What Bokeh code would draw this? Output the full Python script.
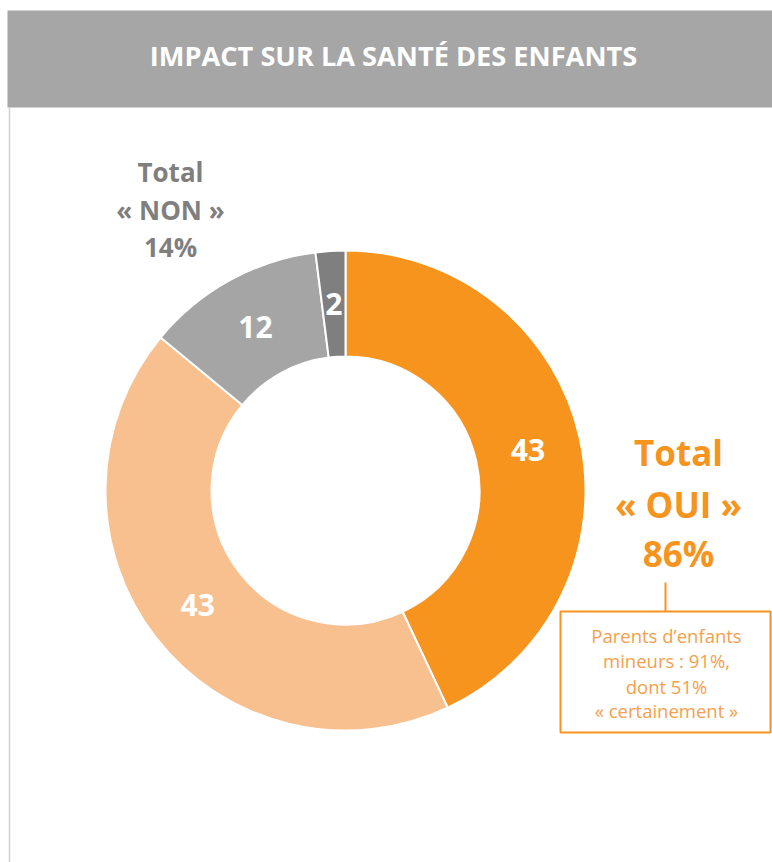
import math
from bokeh.plotting import figure
from bokeh.models import Range1d
from bokeh.core.properties import value
from bokeh.embed import file_html
from bokeh.resources import INLINE

# Data
categories = ["Oui, certainement", "Oui, probablement", "Non, probablement pas", "Non, certainement pas"]
values = [43, 43, 12, 2]
colors = ["#F7941D", "#F9C08F", "#A5A5A5", "#7F7F7F"]
title = "IMPACT SUR LA SANTÉ DES ENFANTS"
non_lines = ["Total", "« NON »", "14%"]
oui_lines = ["Total", "« OUI »", "86%"]
note_lines = ["Parents d\u2019enfants", "mineurs : 91%,", "dont 51%", "« certainement »"]

W, H = 772, 862
FONT = "Open Sans"

def X(px):
    return px

def Y(py):
    return H - py

p = figure(width=W, height=H, output_backend="svg", toolbar_location=None,
           x_range=Range1d(0, W), y_range=Range1d(0, H), min_border=0)
p.axis.visible = False
p.grid.visible = False
p.outline_line_color = None
p.background_fill_color = "white"

# header
p.quad(left=X(7), right=W, top=Y(10), bottom=Y(107), fill_color="#A6A6A6", line_color=None)
p.text(x=[X(393)], y=[Y(55)], text=[title], text_font=value(FONT), text_font_style="bold",
       text_font_size="27.2px", text_color="white", text_align="center", text_baseline="middle")
# left border
p.segment(x0=[X(9)], y0=[Y(107)], x1=[X(9)], y1=[0], line_color="#D0D0D0", line_width=1.5)

# donut
cx, cy = X(345), Y(490)
r_in, r_out = 134, 240
total = sum(values)
starts, ends, mids = [], [], []
cum = 0
for v in values:
    a0 = math.pi / 2 - 2 * math.pi * (cum + v) / total
    a1 = math.pi / 2 - 2 * math.pi * cum / total
    starts.append(a0)
    ends.append(a1)
    mids.append((a0 + a1) / 2)
    cum += v
p.annular_wedge(x=[cx] * 4, y=[cy] * 4, inner_radius=r_in, outer_radius=r_out,
                inner_radius_units="screen", outer_radius_units="screen",
                start_angle=starts, end_angle=ends, fill_color=colors,
                line_color="white", line_width=2)
rm = (r_in + r_out) / 2
lx = [cx + rm * math.cos(a) for a in mids]
ly = [cy + rm * math.sin(a) for a in mids]
p.text(x=lx, y=ly, text=[str(v) for v in values], text_font=value(FONT), text_font_style="bold",
       text_font_size="30px", text_color="white", text_align="center", text_baseline="middle")

# Total NON
p.text(x=[X(170)] * 3, y=[Y(171), Y(209), Y(246)], text=non_lines, text_font=value(FONT),
       text_font_style="bold", text_font_size="26px", text_color="#7F7F7F",
       text_align="center", text_baseline="middle")
# Total OUI
p.text(x=[X(678)] * 3, y=[Y(452), Y(504), Y(553)], text=oui_lines, text_font=value(FONT),
       text_font_style="bold", text_font_size="35px", text_color="#F7941D",
       text_align="center", text_baseline="middle")

# note box
p.segment(x0=[X(665)], y0=[Y(582)], x1=[X(665)], y1=[Y(611)], line_color="#F7941D", line_width=2)
p.quad(left=X(560), right=X(770), top=Y(611), bottom=Y(732), fill_color="white",
       line_color="#F7941D", line_width=2)
p.text(x=[X(666)] * 4, y=[Y(635), Y(660), Y(686), Y(710)], text=note_lines, text_font=value(FONT),
       text_font_size="18.5px", text_color="#F5A04D", text_align="center", text_baseline="middle")

open("out.html", "w").write(file_html(p, INLINE))
